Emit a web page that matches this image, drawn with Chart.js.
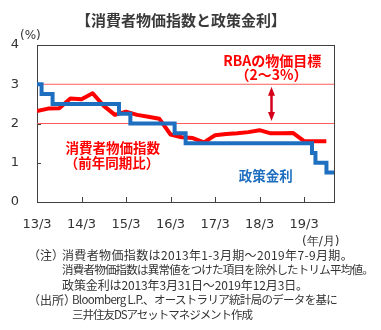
<!DOCTYPE html>
<html>
<head>
<meta charset="utf-8">
<script src="https://cdn.jsdelivr.net/npm/chart.js@4.4.1/dist/chart.umd.min.js"></script>
<style>
  body { margin: 0; background: #fff; }
  #wrap { position: relative; width: 381px; height: 330px; font-family: "Noto Sans CJK JP", sans-serif; color: #333; }
  #chart { position: absolute; left: 0; top: 0; }
  .title { position: absolute; left: 0; width: 362px; top: 9px; text-align: center; font-weight: bold; font-size: 15px; line-height: 22px; color: #3a3a3a; }
  .unit { position: absolute; font-family: "DejaVu Sans", sans-serif; font-size: 12px; line-height: 14px; color: #333; white-space: nowrap; }
  .note { position: absolute; font-size: 12px; line-height: 15px; white-space: nowrap; color: #333; }
  .note.small { font-size: 11.5px; }
</style>
</head>
<body>
<div id="wrap">
  <canvas id="chart" width="381" height="330"></canvas>
  <div class="title">【消費者物価指数と政策金利】</div>
  <div class="unit" style="left:20px;top:28px;">(%)</div>
  <div class="unit" style="left:302px;top:234px;">(年/月)</div>
  <div class="note" style="left:28px;top:247px;">（注）</div>
  <div class="note fit" data-w="291" style="left:62px;top:247px;">消費者物価指数は2013年1-3月期～2019年7-9月期。</div>
  <div class="note fit small" data-w="311" style="left:62px;top:262px;">消費者物価指数は異常値をつけた項目を除外したトリム平均値。</div>
  <div class="note fit" data-w="246" style="left:62px;top:277px;">政策金利は2013年3月31日～2019年12月3日。</div>
  <div class="note" style="left:28px;top:292px;">（出所）</div>
  <div class="note fit small" data-w="265" style="left:72px;top:292px;">Bloomberg L.P.、オーストラリア統計局のデータを基に</div>
  <div class="note fit small" data-w="180" style="left:72px;top:307px;">三井住友DSアセットマネジメント作成</div>
</div>
<script>
// Trimmed-mean CPI, year-on-year (%), quarterly
const cpiQuarters = [
  '2013Q1','2013Q2','2013Q3','2013Q4',
  '2014Q1','2014Q2','2014Q3','2014Q4',
  '2015Q1','2015Q2','2015Q3','2015Q4',
  '2016Q1','2016Q2','2016Q3','2016Q4',
  '2017Q1','2017Q2','2017Q3','2017Q4',
  '2018Q1','2018Q2','2018Q3','2018Q4',
  '2019Q1','2019Q2','2019Q3'
];
const cpiValues = [
  2.32, 2.38, 2.39, 2.64,
  2.62, 2.77, 2.45, 2.22,
  2.30, 2.22, 2.17, 2.12,
  1.72, 1.65, 1.63, 1.52,
  1.70, 1.73, 1.75, 1.78,
  1.83, 1.75, 1.75, 1.76,
  1.55, 1.55, 1.55
];

// RBA cash rate target (%): effective dates and new levels
const policyDates = [
  '2013-03-31', '2013-05-08', '2013-08-07', '2015-02-04', '2015-05-06',
  '2016-05-04', '2016-08-03', '2019-06-05', '2019-07-03', '2019-10-02', '2019-12-03'
];
const policyRates = [3.00, 2.75, 2.50, 2.25, 2.00, 1.75, 1.50, 1.25, 1.00, 0.75, 0.75];

// RBA inflation target band (%)
const targetBand = [2, 3];

// Axis tick labels (year/month)
const xTickLabels = ['13/3', '14/3', '15/3', '16/3', '17/3', '18/3', '19/3'];
const yTickValues = [0, 1, 2, 3, 4];

// Tighten or loosen footnote lines to their column widths
document.querySelectorAll('.note.fit').forEach(el => {
  const target = Number(el.dataset.w);
  const n = [...el.textContent].length;
  const w = el.getBoundingClientRect().width;
  el.style.letterSpacing = ((target - w) / n).toFixed(2) + 'px';
});

// Time axis is measured in months from the end of March 2013
function monthsFromDate(s) {
  const [y, m, d] = s.split('-').map(Number);
  return (y - 2013) * 12 + (m - 3) + (d - 31) / 30;
}
function monthsFromQuarter(q) {
  const y = Number(q.slice(0, 4));
  const n = Number(q.slice(5));
  return (y - 2013) * 12 + (n - 1) * 3;
}
function monthsFromTick(t) {
  const [yy, mm] = t.split('/').map(Number);
  return (yy - 13) * 12 + (mm - 3);
}

const xMax = monthsFromDate(policyDates[policyDates.length - 1]);
const tickMonths = xTickLabels.map(monthsFromTick);

const cpiPoints = cpiQuarters.map((q, i) => ({ x: monthsFromQuarter(q), y: cpiValues[i] }));
const ratePoints = policyDates.map((d, i) => ({ x: monthsFromDate(d), y: policyRates[i] }));

const RED = '#ff0000';
const BLUE = '#1f6fc1';
const DARK_RED = '#d4001a';
const AXIS = '#404040';

const frameAndNotes = {
  id: 'frameAndNotes',
  beforeDatasetsDraw(chart) {
    const { ctx, chartArea: a, scales } = chart;
    ctx.save();
    ctx.strokeStyle = AXIS;
    ctx.lineWidth = 1;
    ctx.strokeRect(Math.round(a.left) + 0.5, Math.round(a.top) + 0.5,
                   Math.round(a.right - a.left), Math.round(a.bottom - a.top));
    // inward tick marks
    ctx.beginPath();
    tickMonths.forEach(v => {
      const x = Math.round(scales.x.getPixelForValue(v)) + 0.5;
      ctx.moveTo(x, a.bottom);
      ctx.lineTo(x, a.bottom - 5);
    });
    yTickValues.forEach(v => {
      const y = Math.round(scales.y.getPixelForValue(v)) + 0.5;
      ctx.moveTo(a.left, y);
      ctx.lineTo(a.left + 4, y);
    });
    ctx.stroke();
    ctx.restore();
  },
  afterDatasetsDraw(chart) {
    const { ctx, scales } = chart;
    const px = v => scales.x.getPixelForValue(v);
    const py = v => scales.y.getPixelForValue(v);
    ctx.save();
    // double-headed arrow spanning the target band
    const ax = Math.round(px(63.1)) + 0.5;
    const yTop = py(targetBand[1]) + 2.5;
    const yBot = py(targetBand[0]) - 2.5;
    ctx.strokeStyle = DARK_RED;
    ctx.fillStyle = DARK_RED;
    ctx.lineWidth = 2.5;
    ctx.beginPath();
    ctx.moveTo(ax, yTop + 6);
    ctx.lineTo(ax, yBot - 6);
    ctx.stroke();
    ctx.beginPath();
    ctx.moveTo(ax, yTop); ctx.lineTo(ax - 3.5, yTop + 9); ctx.lineTo(ax + 3.5, yTop + 9); ctx.closePath();
    ctx.moveTo(ax, yBot); ctx.lineTo(ax - 3.5, yBot - 9); ctx.lineTo(ax + 3.5, yBot - 9); ctx.closePath();
    ctx.fill();

    // annotations
    ctx.textAlign = 'center';
    ctx.textBaseline = 'middle';
    ctx.font = 'bold 14px "Noto Sans CJK JP"';
    ctx.fillStyle = RED;
    ctx.fillText('RBAの物価目標', px(63.4), py(3.6));
    ctx.fillText('（2～3%）', px(63.2), py(3.24));
    ctx.font = 'bold 13.5px "Noto Sans CJK JP"';
    ctx.fillText('消費者物価指数', px(20.4), py(1.37));
    ctx.fillText('（前年同期比）', px(20.2), py(1.0));
    ctx.fillStyle = BLUE;
    ctx.fillText('政策金利', px(61.7), py(0.66));
    ctx.restore();
  }
};

new Chart(document.getElementById('chart'), {
  type: 'line',
  data: {
    datasets: [
      {
        label: '政策金利',
        data: ratePoints,
        borderColor: BLUE,
        borderWidth: 4,
        stepped: 'before',
        pointRadius: 0,
        fill: false
      },
      {
        label: '消費者物価指数',
        data: cpiPoints,
        borderColor: RED,
        borderWidth: 4,
        borderJoinStyle: 'round',
        tension: 0,
        pointRadius: 0,
        fill: false
      },
      {
        label: 'RBA上限',
        data: [{ x: 0, y: targetBand[1] }, { x: xMax, y: targetBand[1] }],
        borderColor: '#ff5c5c',
        borderWidth: 1,
        pointRadius: 0
      },
      {
        label: 'RBA下限',
        data: [{ x: 0, y: targetBand[0] }, { x: xMax, y: targetBand[0] }],
        borderColor: '#ff5c5c',
        borderWidth: 1,
        pointRadius: 0
      }
    ]
  },
  options: {
    responsive: false,
    animation: false,
    devicePixelRatio: 1,
    layout: { padding: { top: 45, right: 47, left: 0, bottom: 0 } },
    plugins: { legend: { display: false }, tooltip: { enabled: false }, title: { display: false } },
    scales: {
      x: {
        type: 'linear',
        min: 0,
        max: xMax,
        afterBuildTicks: s => { s.ticks = tickMonths.map(v => ({ value: v })); },
        afterFit: s => { s.height = 128; },
        grid: { display: false, drawTicks: false },
        border: { display: false },
        ticks: {
          padding: 15,
          maxRotation: 0,
          autoSkip: false,
          color: '#333',
          font: { family: 'DejaVu Sans', size: 13 },
          callback: v => xTickLabels[tickMonths.indexOf(v)]
        }
      },
      y: {
        min: 0,
        max: 4,
        afterBuildTicks: s => { s.ticks = yTickValues.map(v => ({ value: v })); },
        afterFit: s => { s.width = 37; },
        grid: { display: false, drawTicks: false },
        border: { display: false },
        ticks: {
          padding: 18,
          color: '#333',
          font: { family: 'DejaVu Sans', size: 13 }
        }
      }
    }
  },
  plugins: [frameAndNotes]
});
</script>
</body>
</html>
